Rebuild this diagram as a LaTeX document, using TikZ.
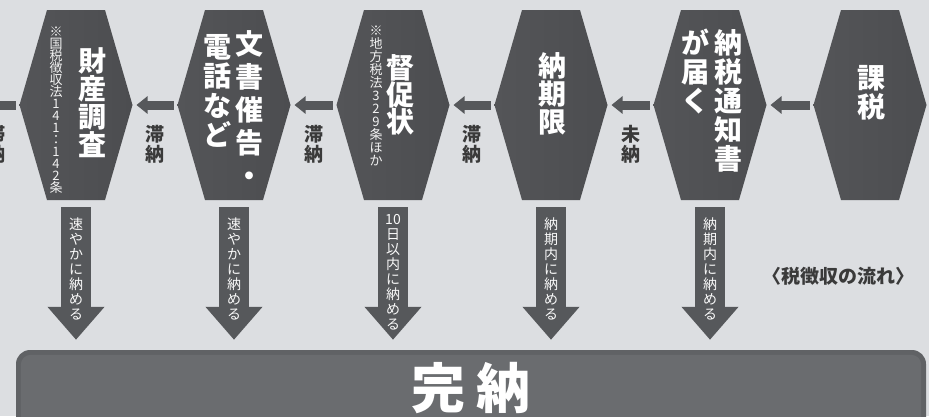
\documentclass[tikz,border=0pt]{standalone}
\usepackage{fontspec}
\newfontfamily\jp{Noto Sans CJK JP}[BoldFont={Noto Sans CJK JP Black}]
\usetikzlibrary{arrows.meta,backgrounds,calc}
\definecolor{bgc}{HTML}{DCDEE1}
\definecolor{hexL}{HTML}{545558}
\definecolor{hexM}{HTML}{616265}
\definecolor{hexR}{HTML}{4C4D50}
\definecolor{arr}{HTML}{56585B}
\definecolor{boxD}{HTML}{606265}
\definecolor{boxM}{HTML}{6A6C6F}
\definecolor{lblc}{HTML}{3A3A3A}
\tikzset{
  hexbox/.style={minimum width=113pt, minimum height=190pt, inner sep=0pt, outer sep=0pt},
  big/.style={font=\jp\bfseries\fontsize{28}{#1}\selectfont, text=white, align=center, inner sep=0pt},
  big/.default=28,
  notetxt/.style={font=\jp\fontsize{13}{#1}\selectfont, text=white!90!gray, align=center, inner sep=0pt},
  harrow/.style={draw=arr, line width=9pt, -{Triangle[width=17pt,length=11pt]}, shorten <=4pt, shorten >=4pt},
  varrow/.style={draw=arr, line width=30pt, -{Triangle[width=55pt,length=33pt]}, shorten <=7pt, shorten >=10pt},
  lbl/.style={font=\jp\bfseries\fontsize{19}{20}\selectfont, text=lblc, align=center, inner sep=0pt, anchor=north, yshift=-16pt},
  atext/.style={font=\jp\fontsize{14}{15}\selectfont, text=white!95!gray, align=center, inner sep=0pt},
}
\begin{document}
\begin{tikzpicture}[x=1pt,y=-1pt]
\useasboundingbox (0,0) rectangle (929,416);
% hexagon frames
\node[hexbox] (h1) at (76,105) {};
\node[hexbox] (h2) at (234,105) {};
\node[hexbox] (h3) at (393,105) {};
\node[hexbox] (h4) at (551,105) {};
\node[hexbox] (h5) at (710,105) {};
\node[hexbox] (h6) at (870,105) {};
\begin{scope}[on background layer]
  \fill[bgc] (0,0) rectangle (929,416);
  \foreach \h in {h1,h2,h3,h4,h5,h6}{
    \shade[left color=hexL, middle color=hexM, right color=hexR]
      ([xshift=27.5pt]\h.north west) -- ([xshift=-27.5pt]\h.north east) -- (\h.east)
      -- ([xshift=-27.5pt]\h.south east) -- ([xshift=27.5pt]\h.south west) -- (\h.west) -- cycle;
  }
\end{scope}
% bottom box
\node[fill=boxD, rounded corners=14pt, minimum width=910pt, minimum height=100pt, inner sep=0pt] (done) at (471,400) {};
\fill[boxM, rounded corners=10pt] ([xshift=5pt,yshift=-5pt]done.north west) rectangle ([xshift=-5pt,yshift=5pt]done.south east);
\node[font=\jp\bfseries\fontsize{54}{54}\selectfont, text=white, inner sep=0pt] (dt) at (471,388) {完\hspace{12pt}納};
% horizontal arrows
\coordinate (offl) at (-27,105);
\draw[harrow] (h1.west) -- node[lbl] (l0) {滞\\納} (offl);
\draw[harrow] (h2.west) -- node[lbl] (l1) {滞\\納} (h1.east);
\draw[harrow] (h3.west) -- node[lbl] (l2) {滞\\納} (h2.east);
\draw[harrow] (h4.west) -- node[lbl] (l3) {滞\\納} (h3.east);
\draw[harrow] (h5.west) -- node[lbl] (l4) {未\\納} (h4.east);
\draw[harrow] (h6.west) -- (h5.east);
% vertical arrows
\draw[varrow] (h1.south) -- node[atext, yshift=6pt] (a1) {速\\や\\か\\に\\納\\め\\る} (h1.south |- done.north);
\draw[varrow] (h2.south) -- node[atext, yshift=6pt] (a2) {速\\や\\か\\に\\納\\め\\る} (h2.south |- done.north);
\draw[varrow] (h3.south) -- node[atext, yshift=3pt] (a3) {10\\日\\以\\内\\に\\納\\め\\る} (h3.south |- done.north);
\draw[varrow] (h4.south) -- node[atext, yshift=6pt] (a4) {納\\期\\内\\に\\納\\め\\る} (h4.south |- done.north);
\draw[varrow] (h5.south) -- node[atext, yshift=6pt] (a5) {納\\期\\内\\に\\納\\め\\る} (h5.south |- done.north);
% texts in hexagons
\node[big] (t1) at (92,103) {財\\産\\調\\査};
\node[notetxt=12] (n1) at (56,110) {※\\国\\税\\徴\\収\\法\\1\\4\\1\\：\\1\\4\\2\\条};
\node[big=33] (t2a) at (249,109) {文\\書\\催\\告\\・};
\node[big=29.3] (t2b) at (217,91) {電\\話\\な\\ど};
\node[big=27] (t3) at (400,95) {督\\促\\状};
\node[notetxt=13] (n3) at (376,96) {※\\地\\方\\税\\法\\3\\2\\9\\条\\ほ\\か};
\node[big] (t4) at (552,94) {納\\期\\限};
\node[big=29] (t5a) at (728,101) {納\\税\\通\\知\\書};
\node[big=29] (t5b) at (695,72) {が\\届\\く};
\node[big=29] (t6) at (871,93) {課\\税};
% caption
\node[font=\jp\bfseries\fontsize{19}{19}\selectfont, text=lblc, inner sep=0pt] (cap) at (838,276) {〈税徴収の流れ〉};
\end{tikzpicture}
\end{document}
